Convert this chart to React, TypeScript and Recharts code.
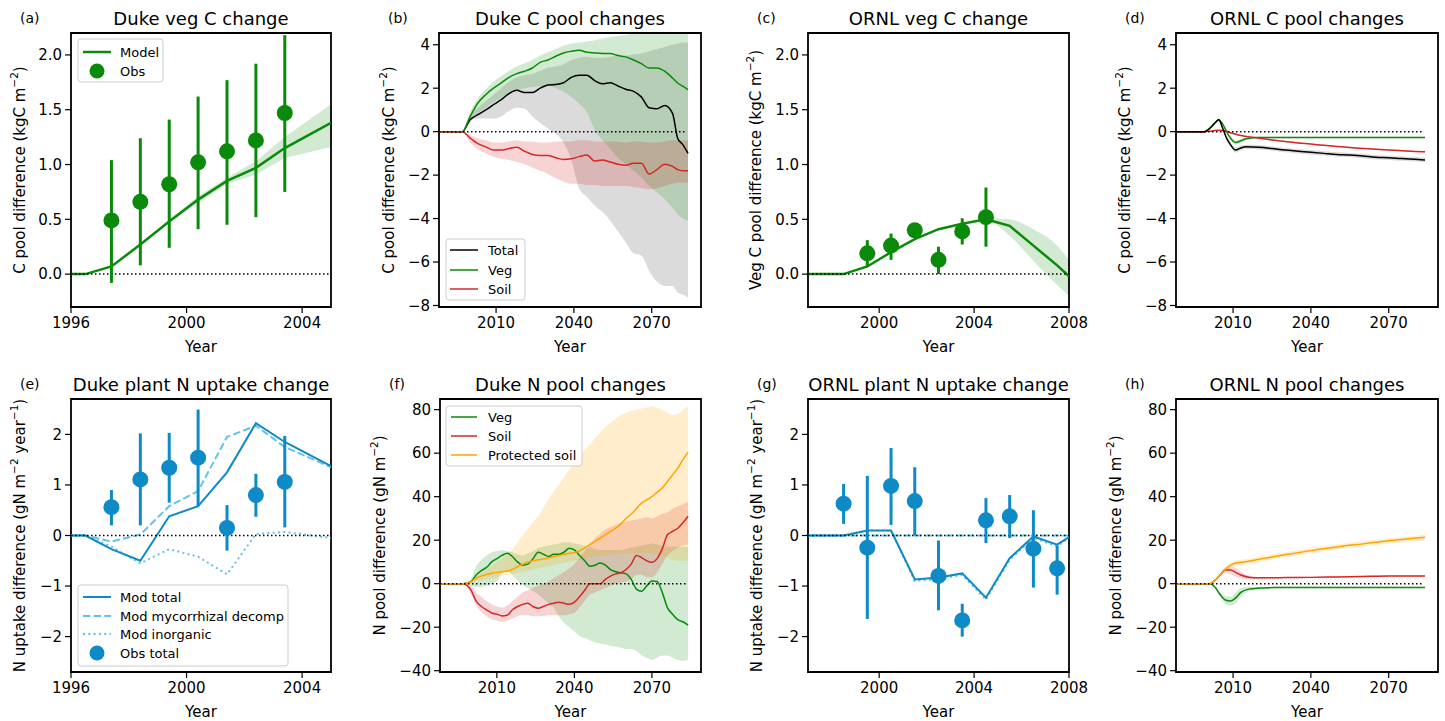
import React from "react";
import { ComposedChart, Line, Area, Scatter, ErrorBar, XAxis, YAxis, ReferenceArea } from "recharts";

const FONT = "'DejaVu Sans', sans-serif";

const GREEN = "#0a8a0a";
const GREEN_FILL = "#2ca02c";
const RED = "#d62728";
const ORANGE = "#ffa500";
const BLUE = "#0e8ac6";
const LIGHT_BLUE = "#65c1e8";

// ---------- Duke, short period (a, e)
const dukeYears = [1996, 1996.5, 1997.4, 1998.4, 1999.4, 2000.4, 2001.4, 2002.4, 2003.4, 2005];
const dukeVegModel = [0, 0, 0.07, 0.27, 0.48, 0.68, 0.85, 0.97, 1.15, 1.38];
const dukeVegLow = [0, 0, 0.06, 0.26, 0.47, 0.65, 0.82, 0.91, 1.06, 1.16];
const dukeVegHigh = [0, 0, 0.08, 0.28, 0.5, 0.71, 0.88, 1.03, 1.25, 1.55];
const dukeObsYears = [1997.4, 1998.4, 1999.4, 2000.4, 2001.4, 2002.4, 2003.4];
const dukeVegObs = [0.49, 0.66, 0.82, 1.02, 1.12, 1.22, 1.47];
const dukeVegObsLow = [-0.08, 0.08, 0.24, 0.41, 0.45, 0.52, 0.75];
const dukeVegObsHigh = [1.04, 1.24, 1.41, 1.62, 1.77, 1.92, 2.18];

const dukeNupTotal = [0, 0, -0.27, -0.5, 0.38, 0.58, 1.25, 2.22, 1.85, 1.37];
const dukeNupMyco = [0, 0, -0.12, 0.02, 0.58, 0.88, 1.95, 2.17, 1.75, 1.35];
const dukeNupInorg = [0, 0, -0.22, -0.55, -0.27, -0.42, -0.77, 0.03, 0.07, -0.05];
const dukeNupObs = [0.56, 1.11, 1.34, 1.54, 0.15, 0.8, 1.06];
const dukeNupObsLow = [0.2, 0.2, 0.65, 0.58, -0.3, 0.37, 0.16];
const dukeNupObsHigh = [0.9, 2.02, 2.03, 2.49, 0.6, 1.22, 1.97];

// ---------- ORNL, short period (c, g)
const ornlYears = [1997, 1998.5, 1999.5, 2000.5, 2001.5, 2002.5, 2003.5, 2004.5, 2005.5, 2006.5, 2007.5, 2008];
const ornlVegModel = [0, 0, 0.07, 0.2, 0.32, 0.41, 0.46, 0.5, 0.44, 0.26, 0.08, -0.02];
const ornlVegLow = [0, 0, 0.07, 0.2, 0.32, 0.41, 0.46, 0.49, 0.35, 0.12, -0.1, -0.2];
const ornlVegHigh = [0, 0, 0.07, 0.2, 0.32, 0.41, 0.46, 0.51, 0.5, 0.41, 0.26, 0.13];
const ornlVegObsYears = [1999.5, 2000.5, 2001.5, 2002.5, 2003.5, 2004.5];
const ornlVegObs = [0.19, 0.26, 0.4, 0.13, 0.39, 0.52];
const ornlVegObsLow = [0.07, 0.13, 0.38, 0.0, 0.27, 0.25];
const ornlVegObsHigh = [0.31, 0.37, 0.42, 0.25, 0.51, 0.79];

const ornlNupTotal = [0, 0, 0.1, 0.1, -0.87, -0.83, -0.75, -1.23, -0.45, -0.02, -0.18, -0.03];
const ornlNupMyco = [0, 0, 0, 0, 0, 0, 0, 0, 0, 0, 0, 0];
const ornlNupInorg = [0, 0, 0.1, 0.1, -0.9, -0.86, -0.78, -1.27, -0.48, -0.05, -0.21, -0.05];
const ornlNupObsYears = [1998.5, 1999.5, 2000.5, 2001.5, 2002.5, 2003.5, 2004.5, 2005.5, 2006.5, 2007.5];
const ornlNupObs = [0.63, -0.24, 0.98, 0.68, -0.8, -1.68, 0.3, 0.38, -0.26, -0.65];
const ornlNupObsLow = [0.23, -1.65, 0.21, 0.0, -1.48, -2.0, -0.15, -0.05, -1.03, -1.17];
const ornlNupObsHigh = [1.02, 1.18, 1.73, 1.35, -0.1, -1.35, 0.74, 0.8, 0.5, -0.2];

// ---------- Duke C pools (b)
const dukeCYears = [1988, 1997, 2000, 2003, 2006, 2009, 2012, 2015, 2018, 2021, 2024, 2027, 2030, 2033, 2036, 2039, 2042, 2045, 2048, 2051, 2054, 2057, 2060, 2063, 2066, 2069, 2072, 2075, 2078, 2080, 2082, 2084];
const dukeCTotal = [0, 0, 0.55, 0.78, 1.0, 1.24, 1.47, 1.75, 1.9, 1.8, 1.8, 2.0, 2.15, 2.17, 2.25, 2.5, 2.6, 2.6, 2.35, 2.2, 2.25, 2.1, 1.95, 1.85, 1.6, 1.1, 1.05, 1.2, 0.85, -0.3, -0.6, -1.0];
const dukeCVeg = [0, 0, 0.7, 1.32, 1.7, 2.0, 2.24, 2.5, 2.67, 2.78, 2.93, 3.19, 3.3, 3.47, 3.62, 3.7, 3.75, 3.65, 3.62, 3.6, 3.6, 3.5, 3.44, 3.3, 3.13, 2.93, 2.93, 2.78, 2.47, 2.24, 2.09, 1.93];
const dukeCSoil = [0, 0, -0.3, -0.55, -0.7, -0.85, -0.85, -0.78, -0.72, -0.9, -1.05, -1.1, -1.1, -1.2, -1.28, -1.25, -1.15, -1.08, -1.35, -1.3, -1.4, -1.5, -1.55, -1.45, -1.45, -1.95, -1.75, -1.5, -1.6, -1.75, -1.8, -1.8];
const dukeCTotalLow = [0, 0, 0.45, 0.6, 0.6, 0.6, 0.7, 0.95, 1.1, 1.05, 0.7, 0.4, 0.15, -0.1, -0.5, -1.3, -2.6, -3.0, -3.4, -3.7, -4.1, -4.6, -5.1, -5.6, -5.7, -6.4, -6.9, -7.1, -7.1, -7.4, -7.5, -7.65];
const dukeCTotalHigh = [0, 0, 0.7, 1.1, 1.4, 1.7, 2.0, 2.3, 2.5, 2.6, 2.65, 2.8, 2.95, 3.0, 3.1, 3.3, 3.4, 3.45, 3.4, 3.4, 3.45, 3.5, 3.5, 3.55, 3.6, 3.7, 3.8, 3.9, 4.0, 4.05, 4.1, 4.1];
const dukeCVegLow = [0, 0, 0.55, 0.85, 1.1, 1.35, 1.55, 1.75, 1.9, 2.0, 2.05, 2.1, 2.1, 2.0, 1.85, 1.6, 1.3, 0.9, 0.1, -0.4, -0.8, -1.2, -1.5, -1.8, -2.1, -2.5, -2.8, -3.1, -3.5, -3.8, -4.0, -4.1];
const dukeCVegHigh = [0, 0, 0.9, 1.55, 1.95, 2.3, 2.55, 2.8, 3.0, 3.15, 3.3, 3.5, 3.65, 3.8, 3.95, 4.05, 4.1, 4.15, 4.2, 4.3, 4.35, 4.4, 4.45, 4.5, 4.5, 4.5, 4.5, 4.5, 4.5, 4.5, 4.5, 4.5];
const dukeCSoilLow = [0, 0, -0.5, -0.8, -1.0, -1.15, -1.25, -1.3, -1.4, -1.5, -1.65, -1.8, -1.95, -2.15, -2.3, -2.4, -2.4, -2.45, -2.45, -2.5, -2.5, -2.5, -2.5, -2.55, -2.6, -2.65, -2.6, -2.5, -2.4, -2.35, -2.35, -2.35];
const dukeCSoilHigh = [0, 0, -0.15, -0.3, -0.4, -0.5, -0.5, -0.45, -0.4, -0.45, -0.45, -0.5, -0.5, -0.45, -0.45, -0.45, -0.4, -0.4, -0.45, -0.45, -0.45, -0.45, -0.5, -0.45, -0.45, -0.5, -0.5, -0.45, -0.4, -0.4, -0.4, -0.4];

// ---------- ORNL C pools (d)
const ornlCYears = [1988, 1999, 2001, 2003, 2004.5, 2006, 2007.5, 2009, 2011, 2013, 2015, 2020, 2025, 2030, 2035, 2040, 2045, 2050, 2055, 2060, 2065, 2070, 2075, 2080, 2084];
const ornlCTotal = [0, 0, 0.15, 0.4, 0.55, 0.15, -0.3, -0.6, -0.85, -0.75, -0.7, -0.72, -0.78, -0.85, -0.9, -0.95, -1.0, -1.05, -1.08, -1.12, -1.18, -1.2, -1.24, -1.27, -1.3];
const ornlCVeg = [0, 0, 0.15, 0.4, 0.55, 0.35, 0.0, -0.3, -0.5, -0.42, -0.33, -0.27, -0.27, -0.27, -0.27, -0.27, -0.27, -0.27, -0.27, -0.27, -0.27, -0.27, -0.27, -0.27, -0.27];
const ornlCSoil = [0, 0, 0.02, 0.05, 0.06, 0.05, 0.02, -0.05, -0.12, -0.18, -0.22, -0.3, -0.38, -0.45, -0.52, -0.57, -0.63, -0.68, -0.73, -0.77, -0.81, -0.85, -0.88, -0.91, -0.93];
const ornlCTotalSpread = [0, 0, 0.02, 0.04, 0.05, 0.06, 0.08, 0.1, 0.12, 0.12, 0.1, 0.1, 0.1, 0.1, 0.1, 0.1, 0.1, 0.1, 0.1, 0.1, 0.1, 0.1, 0.1, 0.1, 0.1];
const ornlCVegSpread = [0, 0, 0.01, 0.02, 0.03, 0.05, 0.08, 0.1, 0.1, 0.08, 0.05, 0.03, 0.03, 0.03, 0.03, 0.03, 0.03, 0.03, 0.03, 0.03, 0.03, 0.03, 0.03, 0.03, 0.03];
const ornlCSoilSpread = [0, 0, 0.01, 0.01, 0.02, 0.02, 0.02, 0.03, 0.03, 0.03, 0.03, 0.03, 0.03, 0.03, 0.03, 0.03, 0.03, 0.03, 0.03, 0.03, 0.03, 0.03, 0.03, 0.03, 0.03];

// ---------- Duke N pools (f)
const dukeNYears = [1988, 1997, 2000, 2002, 2004, 2006, 2008, 2010, 2012, 2014, 2016, 2018, 2020, 2022, 2024, 2026, 2028, 2030, 2032, 2034, 2036, 2038, 2040, 2042, 2044, 2046, 2048, 2050, 2052, 2054, 2056, 2058, 2060, 2062, 2064, 2066, 2068, 2070, 2072, 2074, 2076, 2078, 2080, 2082, 2084];
const dukeNVeg = [0, 0, 1, 4, 6, 7.5, 10, 11.5, 13, 14, 12.5, 10, 8.5, 9, 11.5, 14.5, 13.5, 12.5, 13.5, 13.5, 14.5, 16.3, 15.5, 13, 10.5, 8, 8.5, 9.5, 8.5, 6.5, 5.5, 5, 4.5, 2, -2.5, -3.5, -1, 1.2, 1, -4, -11, -14, -16.5, -17.5, -19];
const dukeNSoil = [0, 0, -3, -8, -10.5, -12, -13.5, -14, -14.8, -14.5, -12, -10.5, -9.5, -9, -10.5, -11.3, -10.5, -9.5, -9, -8.5, -9, -9.5, -8.5, -6, -3, 0, 0, 0, 2, 3.5, 4.5, 5, 6.5, 9, 13, 12, 10.5, 9.8, 11.5, 16, 22.5, 24, 25.5, 28, 31];
const dukeNProt = [0, 0, 1, 2.5, 3.5, 4.2, 4.8, 5.2, 5.5, 5.8, 6.5, 7.8, 9, 10, 10.5, 11, 11.3, 11.8, 12.5, 13, 13.5, 14, 14.3, 15, 16.5, 18, 19.5, 21, 22.5, 24, 25.5, 27.5, 30, 32, 34.5, 37, 38.5, 40, 42, 44, 47, 50, 53, 57, 60.5];
const dukeNVegLow = [0, 0, -1, -1.5, -1.5, -1, 0, 1, 5, 6, 4, 1.5, -0.5, -2, -3.5, -5, -7, -9, -11, -15, -18, -20, -22, -24, -25, -26, -27, -27.5, -28, -28.5, -29, -29.5, -30, -30, -31, -33, -34, -35, -34, -33, -33, -34, -35, -35.5, -35];
const dukeNVegHigh = [0, 0, 2, 8, 11, 13, 14.5, 15, 15.5, 15, 14.5, 13.5, 13, 14, 15, 16.5, 17, 17.5, 18, 18.5, 19, 19, 18.5, 18, 17.5, 16.5, 16, 15.5, 15.5, 15.5, 15.5, 15.5, 16, 16.5, 17, 17.5, 18, 18.5, 18, 17.5, 17, 17, 17, 17, 17];
const dukeNSoilLow = [0, 0, -5, -10, -13, -15, -16.5, -17, -17.5, -17, -16, -15, -14.5, -14.5, -15, -15, -15, -14.5, -14.5, -14.5, -14.5, -14, -13.5, -11, -8, -5, -4, -3, -2, -1, 0, 0.5, 1, 2, 4, 4, 3, 3, 5, 9, 13, 15, 16.5, 17.5, 18];
const dukeNSoilHigh = [0, 0, -1, -4, -6, -8, -9.5, -10.5, -11, -10, -8, -6, -4, -3, -2, -1, 0, 1, 2.5, 4, 5.5, 7, 9, 12, 15, 18, 21, 23, 25, 26, 27, 28, 28.5, 29, 29.5, 30, 30.5, 30, 31, 32, 33, 34.5, 35.5, 36.5, 37.5];
const dukeNProtLow = [0, 0, 0.5, 1, 1.5, 2, 2.5, 3, 3.5, 4, 4.5, 5, 5.5, 6, 6.5, 7, 7.5, 8, 8.5, 9, 9.5, 10, 10.5, 11, 11.5, 12, 12.5, 13, 13, 13.5, 13.5, 14, 14, 14, 14, 14, 14, 14, 13.5, 13, 12, 11, 10.5, 10.5, 10.5];
const dukeNProtHigh = [0, 0, 1.5, 3.5, 5, 6.5, 8, 10, 11.5, 13.5, 16, 19, 22.5, 25.5, 28.5, 31, 35, 39, 42.5, 45.5, 49, 52.5, 55.5, 58.5, 61.5, 64, 67, 69.5, 72, 74, 76, 77.5, 78.5, 79.5, 80, 80.5, 81, 81.5, 81, 80, 78.5, 77.5, 78, 80, 81.5];

// ---------- ORNL N pools (h)
const ornlNYears = [1988, 2001, 2003, 2005, 2007, 2009, 2011, 2013, 2016, 2020, 2025, 2030, 2040, 2050, 2060, 2070, 2084];
const ornlNProt = [0, 0, 1.5, 4, 6.5, 8.5, 9.5, 9.8, 10.3, 11.2, 12.3, 13.3, 15.2, 16.9, 18.3, 19.7, 21.3];
const ornlNSoil = [0, 0, 1.5, 4, 6.3, 6.3, 5.2, 4, 3, 2.7, 2.7, 2.8, 2.9, 3.1, 3.3, 3.5, 3.5];
const ornlNVeg = [0, 0, -1.5, -5, -7.5, -8, -6.5, -4, -2.5, -2.0, -1.8, -1.7, -1.7, -1.7, -1.7, -1.7, -1.7];
const ornlNProtSpread = [0, 0, 0.3, 0.6, 0.8, 1, 1.2, 1.2, 1.2, 1.2, 1.2, 1.2, 1.2, 1.2, 1.2, 1.2, 1.2];
const ornlNSoilSpread = [0, 0, 0.3, 0.8, 1.2, 1.8, 2, 1.5, 0.8, 0.4, 0.3, 0.3, 0.3, 0.3, 0.3, 0.3, 0.3];
const ornlNVegSpread = [0, 0, 0.3, 1, 1.8, 2, 2.5, 2, 1, 0.5, 0.3, 0.3, 0.3, 0.3, 0.3, 0.3, 0.3];

// zero reference line extents and tick labels
const zeroDuke = [1996, 2005];
const zeroOrnl = [1997, 2008];
const zeroLong = [1988, 2083];
const ticksDukeX = [1996, 2000, 2004];
const ticksOrnlX = [2000, 2004, 2008];
const ticksLongX = [2010, 2040, 2070];
const ticksVegC = [0, 0.5, 1, 1.5, 2];
const ticksPoolC = [-8, -6, -4, -2, 0, 2, 4];
const ticksNup = [-2, -1, 0, 1, 2];
const ticksPoolN = [-40, -20, 0, 20, 40, 60, 80];

const toRows = (xs: number[], ys: number[]) => xs.map((x, i) => ({ x, v: ys[i] }));
const toBand = (xs: number[], lo: number[], hi: number[]) => xs.map((x, i) => ({ x, band: [lo[i], hi[i]] }));
const toSpread = (xs: number[], ys: number[], sp: number[]) =>
  xs.map((x, i) => ({ x, band: [ys[i] - sp[i], ys[i] + sp[i]] }));
const toObs = (xs: number[], ys: number[], lo: number[], hi: number[]) =>
  xs.map((x, i) => ({ x, v: ys[i], err: [ys[i] - lo[i], hi[i] - ys[i]] }));
const zeroRows = (ends: number[]) => ends.map((x) => ({ x, v: 0 }));

const minus = (s: string) => s.replace("-", "\u2212");
const fmt1 = (v: number) => minus(v.toFixed(1));
const fmt0 = (v: number) => minus(String(v));

const band = (key: string, data: any[], color: string, opacity: number, type: any = "linear") => (
  <Area key={key} data={data} dataKey="band" type={type} stroke="none" fill={color} fillOpacity={opacity}
    dot={false} activeDot={false} isAnimationActive={false} />
);
const line = (key: string, data: any[], color: string, width: number, type: any = "linear", dash?: string) => (
  <Line key={key} data={data} dataKey="v" type={type} stroke={color} strokeWidth={width} strokeDasharray={dash}
    dot={false} activeDot={false} isAnimationActive={false} />
);
const zero = (key: string, ends: number[]) => line(key, zeroRows(ends), "#000", 1.5, "linear", "1.5 2.5");
const obs = (key: string, data: any[], color: string) => (
  <Scatter key={key} data={data} dataKey="v" fill={color} isAnimationActive={false}
    shape={(p: any) => <circle cx={p.cx} cy={p.cy} r={8} fill={color} />}>
    <ErrorBar dataKey="err" direction="y" width={0} stroke={color} strokeWidth={3} />
  </Scatter>
);

const YW = 65;
const MT = 5;
const MR = 28;
const XH = 45;

function Panel({ left, top, width, height, xDomain, yDomain, xTicks, yTicks, yFmt, children }: any) {
  const tickStyle = { fill: "#000", fontSize: 15, fontFamily: FONT };
  return (
    <div style={{ position: "absolute", left: left - YW, top: top - MT }}>
      <ComposedChart width={YW + width + MR} height={MT + height + XH} margin={{ top: MT, right: MR, bottom: 0, left: 0 }}>
        <XAxis dataKey="x" type="number" domain={xDomain} ticks={xTicks} allowDataOverflow interval={0} height={XH}
          axisLine={false} tickSize={6} tickMargin={4} tickLine={{ stroke: "#000", strokeWidth: 1.2 }} tick={tickStyle} />
        <YAxis type="number" domain={yDomain} ticks={yTicks} allowDataOverflow interval={0} width={YW}
          axisLine={false} tickSize={6} tickMargin={3} tickFormatter={yFmt}
          tickLine={{ stroke: "#000", strokeWidth: 1.2 }} tick={tickStyle} />
        {children}
        <ReferenceArea x1={xDomain[0]} x2={xDomain[1]} y1={yDomain[0]} y2={yDomain[1]} fill="none"
          stroke="#000" strokeWidth={1.8} ifOverflow="visible" />
      </ComposedChart>
    </div>
  );
}

const cLabel = [{ t: "C pool difference (kgC m" }, { t: "\u22122", sup: true }, { t: ")" }];
const vegCLabel = [{ t: "Veg C pool difference (kgC m" }, { t: "\u22122", sup: true }, { t: ")" }];
const nupLabel = [{ t: "N uptake difference (gN m" }, { t: "\u22122", sup: true }, { t: " year" }, { t: "\u22121", sup: true }, { t: ")" }];
const nPoolLabel = [{ t: "N pool difference (gN m" }, { t: "\u22122", sup: true }, { t: ")" }];

const frames = [
  { letter: "(a)", title: "Duke veg C change", L: 71, T: 33, W: 260, H: 274, label: cLabel, off: 51 },
  { letter: "(b)", title: "Duke C pool changes", L: 439, T: 33, W: 262, H: 274, label: cLabel, off: 50 },
  { letter: "(c)", title: "ORNL veg C change", L: 808, T: 33, W: 261, H: 274, label: vegCLabel, off: 52 },
  { letter: "(d)", title: "ORNL C pool changes", L: 1176, T: 33, W: 262, H: 274, label: cLabel, off: 51 },
  { letter: "(e)", title: "Duke plant N uptake change", L: 71, T: 399, W: 260, H: 273, label: nupLabel, off: 51 },
  { letter: "(f)", title: "Duke N pool changes", L: 440, T: 399, W: 261, H: 273, label: nPoolLabel, off: 60 },
  { letter: "(g)", title: "ORNL plant N uptake change", L: 808, T: 399, W: 261, H: 273, label: nupLabel, off: 51 },
  { letter: "(h)", title: "ORNL N pool changes", L: 1176, T: 399, W: 262, H: 273, label: nPoolLabel, off: 60 },
];

function YLabel({ x, y, parts }: any) {
  let raised = false;
  return (
    <text x={x} y={y} transform={`rotate(-90 ${x} ${y})`} fontSize={15} textAnchor="middle" dominantBaseline="central">
      {parts.map((p: any, i: number) => {
        let dy = 0;
        if (p.sup && !raised) { dy = -6; raised = true; }
        else if (!p.sup && raised) { dy = 6; raised = false; }
        return (
          <tspan key={i} dy={dy} fontSize={p.sup ? 10.5 : 15}>{p.t}</tspan>
        );
      })}
    </text>
  );
}

function LegendBox({ x, y, w, h }: any) {
  return <rect x={x} y={y} width={w} height={h} rx={3} fill="#fff" fillOpacity={0.8} stroke="#cccccc" strokeWidth={1} />;
}

function Overlay() {
  return (
    <svg width={1445} height={721} style={{ position: "absolute", left: 0, top: 0, pointerEvents: "none" }} fontFamily={FONT} fill="#000">
      {frames.map((f) => (
        <g key={f.letter}>
          <text x={f.L - 51} y={f.T - 10.5} fontSize={14}>{f.letter}</text>
          <text x={f.L + f.W / 2} y={f.T - 8} fontSize={18} textAnchor="middle">{f.title}</text>
          <text x={f.L + f.W / 2} y={f.T + f.H + 40} fontSize={15} textAnchor="middle" dominantBaseline="central">Year</text>
          <YLabel x={f.L - f.off} y={f.T + f.H / 2} parts={f.label} />
        </g>
      ))}

      {/* (a) legend */}
      <LegendBox x={78} y={39} w={85} h={43} />
      <line x1={83} x2={111} y1={52} y2={52} stroke={GREEN} strokeWidth={2.5} />
      <text x={120} y={52} fontSize={13} dominantBaseline="central">Model</text>
      <circle cx={97} cy={71} r={7.5} fill={GREEN} />
      <text x={120} y={71} fontSize={13} dominantBaseline="central">Obs</text>

      {/* (b) legend */}
      <LegendBox x={446} y={239} w={79} h={61} />
      <line x1={450} x2={478} y1={250} y2={250} stroke="#000" strokeWidth={1.5} />
      <text x={488} y={250} fontSize={13} dominantBaseline="central">Total</text>
      <line x1={450} x2={478} y1={270} y2={270} stroke={GREEN} strokeWidth={1.5} />
      <text x={488} y={270} fontSize={13} dominantBaseline="central">Veg</text>
      <line x1={450} x2={478} y1={289} y2={289} stroke={RED} strokeWidth={1.5} />
      <text x={488} y={289} fontSize={13} dominantBaseline="central">Soil</text>

      {/* (e) legend */}
      <LegendBox x={78} y={585} w={210} h={81} />
      <line x1={83} x2={111} y1={597} y2={597} stroke={BLUE} strokeWidth={2} />
      <text x={120} y={597} fontSize={13} dominantBaseline="central">Mod total</text>
      <line x1={83} x2={111} y1={616} y2={616} stroke={LIGHT_BLUE} strokeWidth={2} strokeDasharray="7.4 3.2" />
      <text x={120} y={616} fontSize={13} dominantBaseline="central">Mod mycorrhizal decomp</text>
      <line x1={83} x2={111} y1={634} y2={634} stroke={LIGHT_BLUE} strokeWidth={2} strokeDasharray="2 3.3" />
      <text x={120} y={634} fontSize={13} dominantBaseline="central">Mod inorganic</text>
      <circle cx={97} cy={653} r={7.5} fill={BLUE} />
      <text x={120} y={653} fontSize={13} dominantBaseline="central">Obs total</text>

      {/* (f) legend */}
      <LegendBox x={446} y={406} w={136} h={60} />
      <line x1={451} x2={477} y1={417} y2={417} stroke={GREEN} strokeWidth={1.5} />
      <text x={488} y={417} fontSize={13} dominantBaseline="central">Veg</text>
      <line x1={451} x2={477} y1={436} y2={436} stroke={RED} strokeWidth={1.5} />
      <text x={488} y={436} fontSize={13} dominantBaseline="central">Soil</text>
      <line x1={451} x2={477} y1={455} y2={455} stroke={ORANGE} strokeWidth={1.5} />
      <text x={488} y={455} fontSize={13} dominantBaseline="central">Protected soil</text>
    </svg>
  );
}

export default function App() {
  const dukeX = [1996, 2005];
  const ornlX = [1997, 2008];
  const longX = [1988, 2089];
  const vegY = [-0.3, 2.2];
  const poolCY = [-8.07, 4.54];
  const nupY = [-2.7, 2.7];
  const poolNY = [-40.6, 84.9];

  return (
    <div style={{ position: "absolute", left: 0, top: 0, width: 1445, height: 721, background: "#fff", fontFamily: FONT }}>
      <Panel left={71} top={33} width={260} height={274} xDomain={dukeX} yDomain={vegY} xTicks={ticksDukeX} yTicks={ticksVegC} yFmt={fmt1}>
        {band("band", toBand(dukeYears, dukeVegLow, dukeVegHigh), GREEN_FILL, 0.22)}
        {line("model", toRows(dukeYears, dukeVegModel), GREEN, 2.5)}
        {zero("zero", zeroDuke)}
        {obs("obs", toObs(dukeObsYears, dukeVegObs, dukeVegObsLow, dukeVegObsHigh), GREEN)}
      </Panel>

      <Panel left={439} top={33} width={262} height={274} xDomain={longX} yDomain={poolCY} xTicks={ticksLongX} yTicks={ticksPoolC} yFmt={fmt0}>
        {band("bt", toBand(dukeCYears, dukeCTotalLow, dukeCTotalHigh), "#000", 0.14, "monotone")}
        {band("bv", toBand(dukeCYears, dukeCVegLow, dukeCVegHigh), GREEN_FILL, 0.22, "monotone")}
        {band("bs", toBand(dukeCYears, dukeCSoilLow, dukeCSoilHigh), RED, 0.2, "monotone")}
        {line("lt", toRows(dukeCYears, dukeCTotal), "#000", 1.5, "monotone")}
        {line("lv", toRows(dukeCYears, dukeCVeg), GREEN, 1.5, "monotone")}
        {line("ls", toRows(dukeCYears, dukeCSoil), RED, 1.5, "monotone")}
        {zero("zero", zeroLong)}
      </Panel>

      <Panel left={808} top={33} width={261} height={274} xDomain={ornlX} yDomain={vegY} xTicks={ticksOrnlX} yTicks={ticksVegC} yFmt={fmt1}>
        {band("band", toBand(ornlYears, ornlVegLow, ornlVegHigh), GREEN_FILL, 0.22, "monotone")}
        {line("model", toRows(ornlYears, ornlVegModel), GREEN, 2.5)}
        {zero("zero", zeroOrnl)}
        {obs("obs", toObs(ornlVegObsYears, ornlVegObs, ornlVegObsLow, ornlVegObsHigh), GREEN)}
      </Panel>

      <Panel left={1176} top={33} width={262} height={274} xDomain={longX} yDomain={poolCY} xTicks={ticksLongX} yTicks={ticksPoolC} yFmt={fmt0}>
        {band("bt", toSpread(ornlCYears, ornlCTotal, ornlCTotalSpread), "#000", 0.14, "monotone")}
        {band("bv", toSpread(ornlCYears, ornlCVeg, ornlCVegSpread), GREEN_FILL, 0.22, "monotone")}
        {band("bs", toSpread(ornlCYears, ornlCSoil, ornlCSoilSpread), RED, 0.2, "monotone")}
        {line("lv", toRows(ornlCYears, ornlCVeg), GREEN, 1.5, "monotone")}
        {line("ls", toRows(ornlCYears, ornlCSoil), RED, 1.5, "monotone")}
        {line("lt", toRows(ornlCYears, ornlCTotal), "#000", 1.5, "monotone")}
        {zero("zero", zeroLong)}
      </Panel>

      <Panel left={71} top={399} width={260} height={273} xDomain={dukeX} yDomain={nupY} xTicks={ticksDukeX} yTicks={ticksNup} yFmt={fmt0}>
        {line("myco", toRows(dukeYears, dukeNupMyco), LIGHT_BLUE, 2, "linear", "7.4 3.2")}
        {line("inorg", toRows(dukeYears, dukeNupInorg), LIGHT_BLUE, 2, "linear", "2 3.3")}
        {line("total", toRows(dukeYears, dukeNupTotal), BLUE, 2)}
        {zero("zero", zeroDuke)}
        {obs("obs", toObs(dukeObsYears, dukeNupObs, dukeNupObsLow, dukeNupObsHigh), BLUE)}
      </Panel>

      <Panel left={440} top={399} width={261} height={273} xDomain={longX} yDomain={poolNY} xTicks={ticksLongX} yTicks={ticksPoolN} yFmt={fmt0}>
        {band("bv", toBand(dukeNYears, dukeNVegLow, dukeNVegHigh), GREEN_FILL, 0.22, "monotone")}
        {band("bs", toBand(dukeNYears, dukeNSoilLow, dukeNSoilHigh), RED, 0.2, "monotone")}
        {band("bp", toBand(dukeNYears, dukeNProtLow, dukeNProtHigh), ORANGE, 0.2, "monotone")}
        {line("lv", toRows(dukeNYears, dukeNVeg), GREEN, 1.5, "monotone")}
        {line("ls", toRows(dukeNYears, dukeNSoil), RED, 1.5, "monotone")}
        {line("lp", toRows(dukeNYears, dukeNProt), ORANGE, 1.5, "monotone")}
        {zero("zero", zeroLong)}
      </Panel>

      <Panel left={808} top={399} width={261} height={273} xDomain={ornlX} yDomain={nupY} xTicks={ticksOrnlX} yTicks={ticksNup} yFmt={fmt0}>
        {line("myco", toRows(ornlYears, ornlNupMyco), LIGHT_BLUE, 2, "linear", "7.4 3.2")}
        {line("inorg", toRows(ornlYears, ornlNupInorg), LIGHT_BLUE, 2, "linear", "2 3.3")}
        {line("total", toRows(ornlYears, ornlNupTotal), BLUE, 2)}
        {zero("zero", zeroOrnl)}
        {obs("obs", toObs(ornlNupObsYears, ornlNupObs, ornlNupObsLow, ornlNupObsHigh), BLUE)}
      </Panel>

      <Panel left={1176} top={399} width={262} height={273} xDomain={longX} yDomain={poolNY} xTicks={ticksLongX} yTicks={ticksPoolN} yFmt={fmt0}>
        {band("bv", toSpread(ornlNYears, ornlNVeg, ornlNVegSpread), GREEN_FILL, 0.22, "monotone")}
        {band("bs", toSpread(ornlNYears, ornlNSoil, ornlNSoilSpread), RED, 0.2, "monotone")}
        {band("bp", toSpread(ornlNYears, ornlNProt, ornlNProtSpread), ORANGE, 0.2, "monotone")}
        {line("lv", toRows(ornlNYears, ornlNVeg), GREEN, 1.5, "monotone")}
        {line("ls", toRows(ornlNYears, ornlNSoil), RED, 1.5, "monotone")}
        {line("lp", toRows(ornlNYears, ornlNProt), ORANGE, 1.5, "monotone")}
        {zero("zero", zeroLong)}
      </Panel>

      <Overlay />
    </div>
  );
}
